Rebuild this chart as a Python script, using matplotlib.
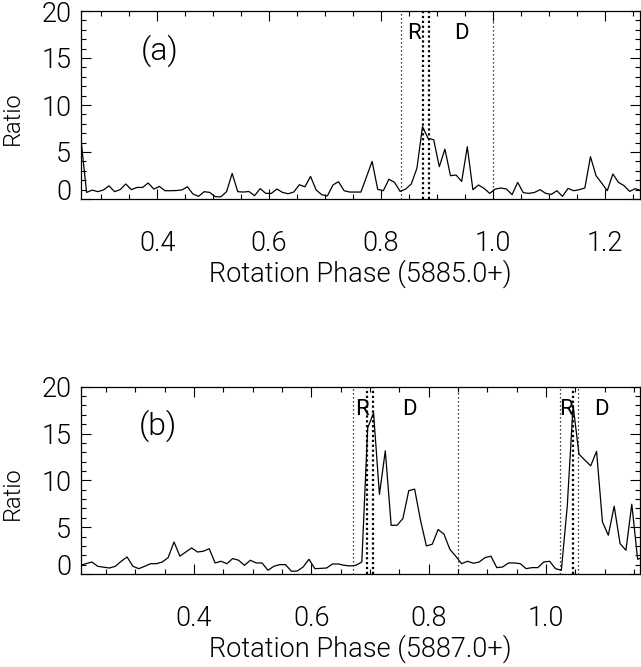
import numpy as np
import matplotlib
matplotlib.use("Agg")
import matplotlib.pyplot as plt
from matplotlib import font_manager
from matplotlib.ticker import MultipleLocator, FormatStrFormatter
from matplotlib.transforms import ScaledTranslation


# the original uses thin vector lettering, so take a light face if there is one
def pick_font():
    ttf = font_manager.fontManager.ttflist
    for name in ["Roboto", "Lato", "Open Sans", "Inter", "Noto Sans"]:
        for f in ttf:
            w = f.weight if isinstance(f.weight, int) else font_manager.weight_dict.get(f.weight, 400)
            if f.name == name and w <= 300 and f.style == "normal":
                return name, 300
    return "Liberation Sans", 400


font_name, font_weight = pick_font()
plt.rcParams["font.family"] = [font_name, "DejaVu Sans"]
plt.rcParams["font.weight"] = font_weight
plt.rcParams["axes.labelweight"] = font_weight

# panel (a) : ratio per phase bin, day 5885
phase_start_a = 0.264
phase_step = 0.01
ratio_a = [6.3, 0.7, 0.95, 0.78, 0.96, 1.4, 0.78, 1.0, 1.6, 1.0,
           1.23, 1.23, 1.7, 1.06, 1.34, 0.88, 0.88, 0.9, 0.96, 1.3,
           0.53, 0.28, 0.78, 0.7, 0.24, 0.24, 0.78, 2.72, 0.78, 0.74,
           0.8, 0.35, 1.1, 0.6, 0.6, 1.06, 0.7, 0.56, 0.74, 1.52,
           1.3, 2.4, 0.96, 0.46, 0.32, 1.49, 1.84, 0.88, 0.74, 0.74,
           0.74, 2.37, 4.0, 1.02, 0.88, 2.1, 1.77, 0.81, 1.06, 1.6,
           3.26, 7.7, 6.45, 6.3, 3.44, 5.3, 2.48, 2.55, 1.87, 5.56,
           0.99, 1.49, 1.13, 0.6, 1.06, 1.17, 1.06, 0.46, 1.77, 0.67,
           0.6, 0.7, 0.99, 0.6, 0.49, 0.88, 0.28, 1.13, 0.88, 0.99,
           1.17, 4.5, 2.48, 1.7, 0.88, 2.66, 1.77, 1.42, 0.81, 1.1, 0.9]
lines_a = [0.835, 0.875, 0.885, 1.0]
bold_a = [False, True, True, False]
marks_a = [("R", 0.858), ("D", 0.943)]

# panel (b) : day 5887
phase_start_b = 0.206
ratio_b = [0.93, 1.1, 1.28, 0.82, 0.73, 0.64, 0.82, 1.36, 1.82, 0.82,
           0.57, 0.82, 1.1, 1.1, 1.28, 1.75, 3.42, 1.9, 2.35, 2.78,
           2.35, 2.43, 2.7, 1.18, 1.36, 1.1, 1.65, 1.47, 0.93, 1.47,
           1.18, 1.18, 0.4, 0.82, 1.0, 1.0, 0.29, 0.32, 0.75, 1.57,
           0.57, 0.6, 0.64, 1.07, 1.07, 0.93, 0.86, 0.93, 1.28, 15.6,
           17.2, 8.5, 13.15, 5.2, 5.2, 5.92, 8.9, 9.06, 5.74, 3.0,
           3.18, 4.75, 4.25, 2.64, 1.9, 1.1, 1.36, 1.15, 1.28, 1.75,
           1.9, 0.68, 0.75, 1.18, 1.18, 1.1, 0.57, 0.68, 0.68, 1.28,
           1.36, 0.57, 0.4, 7.2, 18.0, 12.8, 12.16, 11.55, 13.1, 5.56,
           4.14, 7.24, 3.25, 2.53, 7.45, 1.57, 1.82]
lines_b = [0.671, 0.695, 0.705, 0.850, 1.024, 1.045, 1.054]
bold_b = [False, True, True, False, False, True, False]
marks_b = [("R", 0.686), ("D", 0.767), ("R", 1.034), ("D", 1.095)]

fs = 19.5

fig = plt.figure(figsize=(6.41, 6.67), dpi=100)
ax_a = fig.add_axes([81 / 641, 1 - 199 / 667, 559 / 641, 188 / 667])
ax_b = fig.add_axes([81 / 641, 1 - 574 / 667, 559 / 641, 187.3 / 667])


def draw_panel(ax, start, ratio, lines, bold, marks, xlim, tag, tag_x, xlabel):
    x = start + phase_step * np.arange(len(ratio))
    ax.plot(x, ratio, color="black", lw=0.9)
    for xv, b in zip(lines, bold):
        ax.axvline(xv, color="black", lw=1.6 if b else 0.9,
                   ls=(0, (1, 1.2)) if b else (0, (1, 2.2)))
    for s, xv in marks:
        ax.text(xv, 17.6, s, fontsize=16, fontweight="normal", ha="center", va="center")
    ax.text(tag_x, 15.8, tag, fontsize=23, ha="center", va="center")
    ax.set_xlim(*xlim)
    ax.set_ylim(0, 20)
    ax.xaxis.set_major_locator(MultipleLocator(0.2))
    ax.xaxis.set_minor_locator(MultipleLocator(0.05))
    ax.set_yticks([0, 5, 10, 15, 20])
    ax.yaxis.set_minor_locator(MultipleLocator(1))
    ax.xaxis.set_major_formatter(FormatStrFormatter("%.1f"))
    ax.tick_params(which="both", direction="in", top=True, right=True,
                   width=0.8, labelsize=fs)
    ax.tick_params(which="major", length=7)
    ax.tick_params(which="minor", length=3.5)
    ax.tick_params(axis="x", pad=22)
    ax.tick_params(axis="y", pad=7)
    for sp in ax.spines.values():
        sp.set_linewidth(0.9)
    ax.set_xlabel(xlabel, fontsize=fs, labelpad=2)
    ax.set_ylabel("Ratio", fontsize=17)
    ax.yaxis.set_label_coords(-0.103, 0.43)
    # the zero label sits a little above its tick
    lab = ax.yaxis.get_major_ticks()[0].label1
    lab.set_transform(lab.get_transform() + ScaledTranslation(0, 6.5 / 72, fig.dpi_scale_trans))


draw_panel(ax_a, phase_start_a, ratio_a, lines_a, bold_a, marks_a,
           (0.264, 1.2625), "(a)", 0.405, "Rotation Phase (5885.0+)")
draw_panel(ax_b, phase_start_b, ratio_b, lines_b, bold_b, marks_b,
           (0.2075, 1.160), "(b)", 0.338, "Rotation Phase (5887.0+)")

fig.savefig("out.png", dpi=100)
